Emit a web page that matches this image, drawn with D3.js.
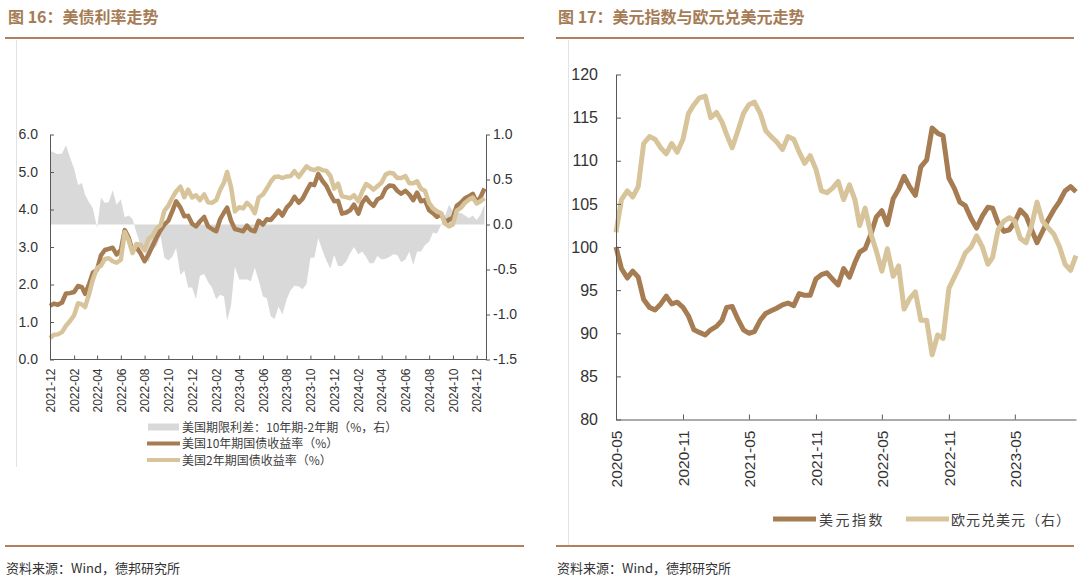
<!DOCTYPE html>
<html>
<head>
<meta charset="utf-8">
<script src="https://cdn.jsdelivr.net/npm/d3@7"></script>
<style>
  body { margin: 0; background: #fff; }
  svg text { font-family: "Liberation Sans", Arial, "Noto Sans CJK SC", sans-serif; fill: #333; }
  .cn { font-family: "Noto Sans CJK SC", sans-serif; }
  .axis path, .axis line { stroke: #595959; }
</style>
</head>
<body>
<svg id="page" width="1080" height="581"></svg>
<script>
// ---- left chart: US treasury yields, sampled on day 1 / 11 / 21 of each month ----
const yieldDays = [1, 11, 21];
const yieldMonths = d3.timeMonth.range(new Date(2021, 11, 1), new Date(2025, 0, 1));

// 10y yield (%), Dec 2021 -> Dec 2024
const us10y = [
  1.43, 1.49, 1.46,
  1.52, 1.76, 1.77,  1.80, 1.96, 1.93,  1.75, 2.00, 2.31,  2.40, 2.78, 2.92,
  2.95, 2.98, 2.80,  2.92, 3.45, 3.25,  2.90, 2.99, 2.84,  2.62, 2.80, 3.02,
  3.26, 3.45, 3.60,  3.70, 3.95, 4.22,  4.05, 3.82, 3.83,  3.62, 3.55, 3.68,
  3.80, 3.55, 3.48,  3.42, 3.74, 3.92,  4.05, 3.70, 3.48,  3.45, 3.42, 3.57,
  3.45, 3.42, 3.70,  3.60, 3.74, 3.72,  3.84, 3.97, 3.84,  4.05, 4.16, 4.34,
  4.18, 4.29, 4.49,  4.68, 4.65, 4.95,  4.76, 4.63, 4.41,  4.22, 4.23, 3.89,
  3.92, 3.98, 4.13,  3.89, 4.18, 4.32,  4.19, 4.10, 4.27,  4.33, 4.55, 4.64,
  4.63, 4.50, 4.42,  4.50, 4.40, 4.25,  4.45, 4.22, 4.25,  3.98, 3.90, 3.80,
  3.88, 3.65, 3.73,  3.78, 4.10, 4.18,  4.30, 4.35, 4.42,  4.19, 4.33, 4.56
];

// 2y yield (%)
const us2y = [
  0.57, 0.66, 0.67,
  0.73, 0.90, 1.02,  1.18, 1.50, 1.47,  1.40, 1.73, 2.13,  2.44, 2.50, 2.68,
  2.70, 2.62, 2.58,  2.66, 3.40, 3.18,  2.84, 3.08, 3.06,  2.92, 3.22, 3.30,
  3.50, 3.58, 3.97,  4.10, 4.31, 4.48,  4.61, 4.33, 4.53,  4.32, 4.38, 4.25,
  4.40, 4.19, 4.18,  4.25, 4.52, 4.72,  5.00, 4.60, 3.95,  4.06, 4.03, 4.18,
  4.08, 3.90, 4.32,  4.40, 4.56, 4.74,  4.87, 4.88, 4.84,  4.88, 4.89, 5.02,
  4.87, 5.01, 5.15,  5.08, 5.05, 5.10,  5.05, 5.03, 4.90,  4.56, 4.69, 4.35,
  4.33, 4.30, 4.38,  4.22, 4.48, 4.68,  4.62, 4.53, 4.62,  4.72, 4.93, 4.98,
  4.96, 4.84, 4.84,  4.89, 4.70, 4.70,  4.75, 4.55, 4.50,  4.17, 4.03, 3.95,
  3.90, 3.62, 3.55,  3.60, 3.97, 4.04,  4.18, 4.26, 4.32,  4.16, 4.22, 4.30
];

// 10y-2y term spread (%, right axis)
const termSpread = [
  0.82, 0.80, 0.78,
  0.79, 0.88, 0.75,  0.62, 0.44, 0.46,  0.33, 0.25, 0.18, -0.04, 0.30, 0.24,
  0.25, 0.38, 0.22,  0.28, 0.08, 0.10,  0.06, -0.09, -0.22, -0.30, -0.42, -0.28,
 -0.24, -0.13, -0.37, -0.40, -0.36, -0.26, -0.56, -0.51, -0.70, -0.70, -0.83, -0.57,
 -0.55, -0.64, -0.70, -0.83, -0.78, -0.80, -1.07, -0.90, -0.47, -0.61, -0.61, -0.61,
 -0.63, -0.48, -0.62, -0.80, -0.82, -1.02, -1.05, -0.91, -1.00, -0.83, -0.73, -0.68,
 -0.69, -0.72, -0.66, -0.37, -0.37, -0.15, -0.29, -0.40, -0.49, -0.34, -0.46, -0.46,
 -0.41, -0.32, -0.25, -0.33, -0.30, -0.36, -0.43, -0.43, -0.35, -0.39, -0.38, -0.36,
 -0.33, -0.34, -0.42, -0.39, -0.30, -0.45, -0.30, -0.30, -0.23, -0.19, -0.09, -0.10,
  0.00, 0.10, 0.22,  0.15, 0.12, 0.13,  0.10, 0.07, 0.10,  0.05, 0.11, 0.22
];

const leftTicksL = [0, 1, 2, 3, 4, 5, 6];
const leftTicksR = [-1.5, -1.0, -0.5, 0.0, 0.5, 1.0];
const leftLegend = ["美国期限利差：10年期-2年期（%，右）", "美国10年期国债收益率（%）", "美国2年期国债收益率（%）"];

// ---- right chart: dollar index vs EURUSD, sampled on day 1 / 16 of each month ----
const fxDays = [1, 16];
const fxMonths = d3.timeMonth.range(new Date(2020, 4, 1), new Date(2023, 10, 1));

const dxyIndex = [
  100.0, 97.5, 96.4, 97.2, 96.5, 93.9, 93.0, 92.7, 93.4, 94.3, 93.4, 93.6,
  93.0, 92.0, 90.4, 90.1, 89.8, 90.4, 90.8, 91.5, 93.0, 93.1, 91.6, 90.4,
  90.0, 90.2, 91.5, 92.3, 92.6, 92.9, 93.3, 93.5, 93.2, 94.6, 94.4, 94.4,
  96.3, 96.8, 97.0, 96.3, 95.6, 97.5, 96.5, 98.2, 99.4, 99.8, 101.5, 103.5,
  104.2, 102.6, 105.6, 106.7, 108.2, 107.0, 106.0, 109.3, 110.1, 113.8, 113.2, 112.9,
  108.0, 106.8, 105.2, 104.8, 103.3, 102.2, 103.6, 104.6, 104.5, 102.8, 101.8, 102.0,
  102.9, 104.3, 103.6, 102.0, 100.5, 101.8, 103.2, 104.3, 105.3, 106.5, 107.0, 106.4
];

const eurUsd = [
  101.7, 105.5, 106.5, 105.8, 107.0, 112.0, 112.8, 112.5, 111.5, 110.8, 112.0, 111.0,
  112.5, 115.5, 116.5, 117.3, 117.5, 115.0, 115.6, 114.5, 113.0, 111.5, 113.5, 115.5,
  116.5, 116.8, 115.5, 113.5, 112.8, 112.2, 111.3, 112.8, 112.5, 111.0, 109.7, 110.6,
  109.0, 106.5, 106.3, 106.8, 107.6, 105.5, 107.2, 105.5, 102.5, 104.5, 101.5, 99.5,
  97.2, 99.8, 96.6, 97.8, 92.8, 94.0, 94.8, 91.5, 91.5, 87.5, 89.8, 89.4,
  95.2, 96.5, 97.8, 99.3, 100.0, 101.3, 100.0, 98.0, 98.8, 102.0, 103.0, 103.4,
  103.0, 101.0, 100.5, 102.5, 105.2, 103.0, 102.2, 101.5, 100.0, 98.0, 97.3, 99.0
];

const rightTicks = [80, 85, 90, 95, 100, 105, 110, 115, 120];
const rightLegend = ["美元指数", "欧元兑美元（右）"];

const brown = "#a67c52", tan = "#d8c49b", grey = "#d9d9d9", rule = "#b0805f";

function sampleDates(months, days) {
  let out = [];
  months.forEach(m => days.forEach(d => out.push(new Date(m.getFullYear(), m.getMonth(), d))));
  return out;
}

const svg = d3.select("#page");

// ---- page furniture ----
const titles = [
  {x: 8, text: "图 16：美债利率走势", x1: 5, x2: 524},
  {x: 558, text: "图 17：美元指数与欧元兑美元走势", x1: 556, x2: 1074}
];
titles.forEach(t => {
  svg.append("text").attr("class", "cn")
    .attr("x", t.x).attr("y", 23)
    .attr("font-size", 16).attr("font-weight", "bold")
    .style("fill", "#a57c55")
    .text(t.text);
  svg.append("line").attr("x1", t.x1).attr("x2", t.x2).attr("y1", 38).attr("y2", 38)
    .attr("stroke", rule).attr("stroke-width", 2);
  svg.append("line").attr("x1", t.x1).attr("x2", t.x2).attr("y1", 546).attr("y2", 546)
    .attr("stroke", rule).attr("stroke-width", 2);
  svg.append("text").attr("class", "cn")
    .attr("x", t.x1 + 1).attr("y", 573)
    .attr("font-size", 13)
    .text("资料来源：Wind，德邦研究所");
});
svg.append("line").attr("x1", 16.5).attr("x2", 16.5).attr("y1", 40).attr("y2", 467)
  .attr("stroke", "#e3e3e3");
svg.append("line").attr("x1", 568.5).attr("x2", 568.5).attr("y1", 40).attr("y2", 545)
  .attr("stroke", "#e3e3e3");

// ---- LEFT CHART ----
const leftDates = sampleDates(yieldMonths, yieldDays);
const yieldData = leftDates.map((d, i) => ({date: d, y10: us10y[i], y2: us2y[i], sp: termSpread[i]}));

const xL = d3.scaleTime()
  .domain([new Date(2021, 11, 1), new Date(2024, 11, 25)])
  .range([50, 486]);
const yL = d3.scaleLinear().domain([0, 6]).range([359.5, 134.5]);
const yR = d3.scaleLinear().domain([-1.5, 1.0]).range([359.5, 134.5]);

const left = svg.append("g");

left.append("path")
  .datum(yieldData)
  .attr("fill", grey)
  .attr("d", d3.area().x(d => xL(d.date)).y0(yR(0)).y1(d => yR(d.sp)));

left.append("path")
  .datum(yieldData)
  .attr("fill", "none").attr("stroke", brown).attr("stroke-width", 4.5)
  .attr("stroke-linejoin", "round")
  .attr("d", d3.line().x(d => xL(d.date)).y(d => yL(d.y10)));

left.append("path")
  .datum(yieldData)
  .attr("fill", "none").attr("stroke", tan).attr("stroke-width", 4.5)
  .attr("stroke-linejoin", "round")
  .attr("d", d3.line().x(d => xL(d.date)).y(d => yL(d.y2)));

let axL = left.append("g").attr("class", "axis")
  .attr("transform", "translate(50,0)")
  .call(d3.axisLeft(yL).tickValues(leftTicksL).tickFormat(d => d.toFixed(1))
    .tickSize(-4).tickSizeOuter(0).tickPadding(12));
axL.selectAll("text").attr("font-size", 14).style("font-family", "Liberation Sans");

let axR = left.append("g").attr("class", "axis")
  .attr("transform", "translate(486,0)")
  .call(d3.axisRight(yR).tickValues(leftTicksR).tickFormat(d => d.toFixed(1))
    .tickSize(4).tickSizeOuter(0).tickPadding(3));
axR.selectAll("text").attr("font-size", 14).style("font-family", "Liberation Sans");

let axB = left.append("g").attr("class", "axis")
  .attr("transform", "translate(0,359.5)")
  .call(d3.axisBottom(xL)
    .tickValues(d3.timeMonth.range(new Date(2021, 11, 1), new Date(2025, 0, 1), 2))
    .tickFormat(d3.timeFormat("%Y-%m"))
    .tickSize(-4).tickSizeOuter(0));
axB.selectAll("text")
  .attr("font-size", 12).style("font-family", "Liberation Sans")
  .attr("text-anchor", "end")
  .attr("transform", "rotate(-90)")
  .attr("x", -9).attr("y", 0).attr("dy", "0.35em");
axB.select(".domain").attr("d", "M50,0H486");

// legend
const legL = left.append("g").attr("class", "cn");
leftLegend.forEach((name, i) => {
  let y = 427 + i * 16.5;
  if (i === 0) {
    legL.append("rect").attr("x", 148).attr("y", y - 3.5).attr("width", 31).attr("height", 7).attr("fill", grey);
  } else {
    legL.append("line").attr("x1", 147).attr("x2", 180).attr("y1", y).attr("y2", y)
      .attr("stroke", i === 1 ? brown : tan).attr("stroke-width", 4);
  }
  legL.append("text").attr("x", 182).attr("y", y + 4.5).attr("font-size", 12)
    .style("font-family", "Noto Sans CJK SC").style("fill", "#404040").text(name);
});

// ---- RIGHT CHART ----
const rightDates = sampleDates(fxMonths, fxDays);
const fxData = rightDates.map((d, i) => ({date: d, dxy: dxyIndex[i], eur: eurUsd[i]}));

const xF = d3.scaleTime()
  .domain([new Date(2020, 4, 1), new Date(2023, 9, 16)])
  .range([616, 1076]);
const yF = d3.scaleLinear().domain([80, 120]).range([419.5, 74.5]);

const right = svg.append("g");

right.append("path")
  .datum(fxData)
  .attr("fill", "none").attr("stroke", brown).attr("stroke-width", 5)
  .attr("stroke-linejoin", "round")
  .attr("d", d3.line().x(d => xF(d.date)).y(d => yF(d.dxy)));

right.append("path")
  .datum(fxData)
  .attr("fill", "none").attr("stroke", tan).attr("stroke-width", 5)
  .attr("stroke-linejoin", "round")
  .attr("d", d3.line().x(d => xF(d.date)).y(d => yF(d.eur)));

let axF = right.append("g").attr("class", "axis")
  .attr("transform", "translate(616,0)")
  .call(d3.axisLeft(yF).tickValues(rightTicks).tickSize(-5).tickSizeOuter(0).tickPadding(18));
axF.selectAll("text").attr("font-size", 16).style("font-family", "Liberation Sans");

let axFB = right.append("g").attr("class", "axis")
  .attr("transform", "translate(0,419.5)")
  .call(d3.axisBottom(xF)
    .tickValues(d3.timeMonth.range(new Date(2020, 4, 1), new Date(2023, 9, 17), 6))
    .tickFormat(d3.timeFormat("%Y-%m"))
    .tickSize(-5).tickSizeOuter(0));
axFB.selectAll("text")
  .attr("font-size", 15.5).style("font-family", "Liberation Sans")
  .attr("text-anchor", "end")
  .attr("transform", "rotate(-90)")
  .attr("x", -11).attr("y", 0).attr("dy", "0.35em");

// legend
const legR = right.append("g");
const legItems = [
  {x1: 773, x2: 816, tx: 819, color: brown, name: rightLegend[0], ls: 2.5},
  {x1: 906, x2: 949, tx: 951, color: tan, name: rightLegend[1], ls: 1}
];
legItems.forEach(it => {
  legR.append("line").attr("x1", it.x1).attr("x2", it.x2).attr("y1", 519).attr("y2", 519)
    .attr("stroke", it.color).attr("stroke-width", 5);
  legR.append("text").attr("x", it.tx).attr("y", 524.5).attr("font-size", 14)
    .attr("letter-spacing", it.ls)
    .style("font-family", "Noto Sans CJK SC").style("fill", "#404040").text(it.name);
});
</script>
</body>
</html>
